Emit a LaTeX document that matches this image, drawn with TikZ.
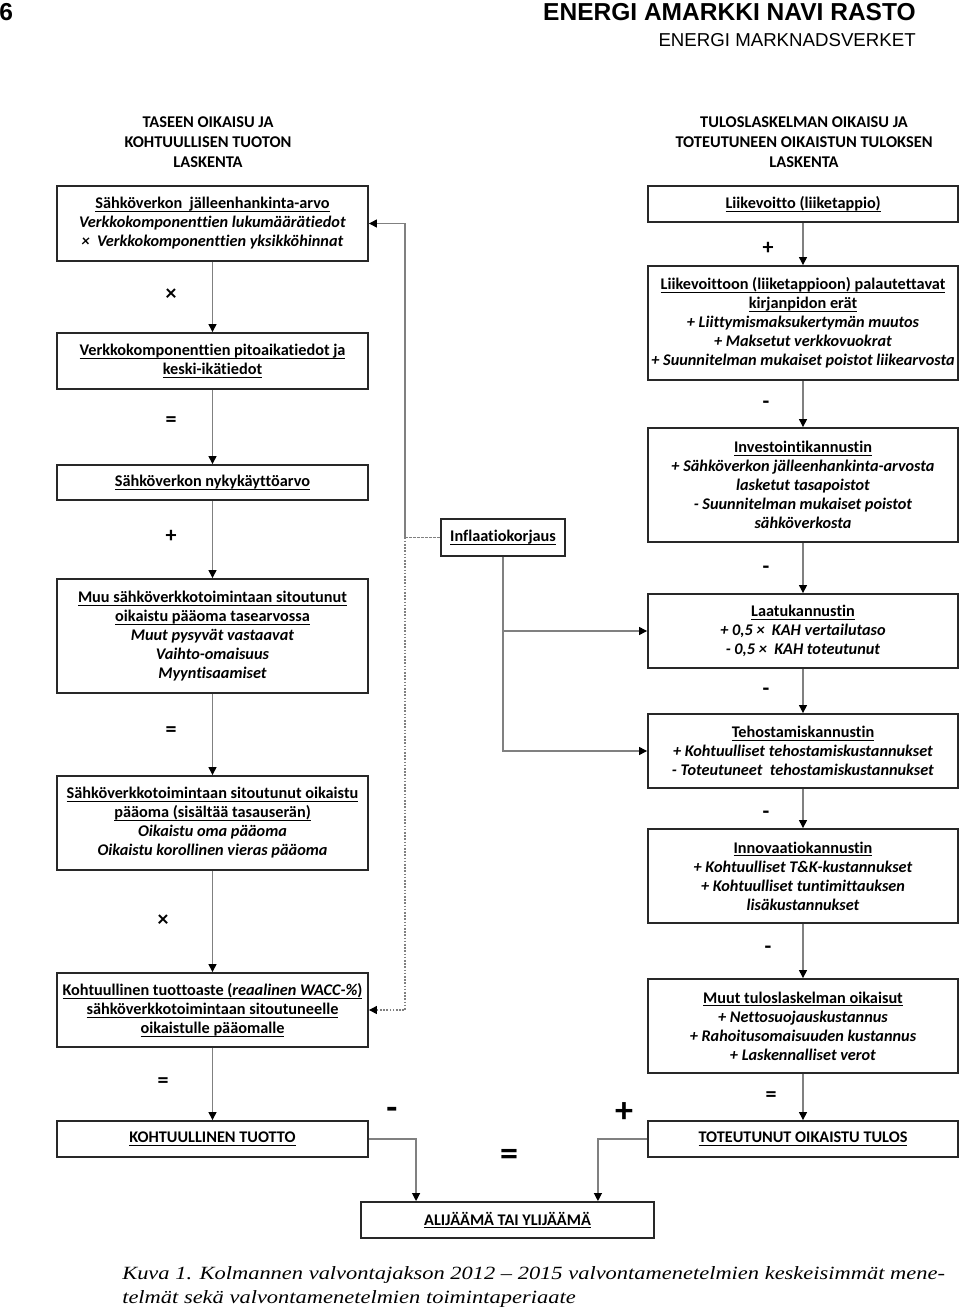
\documentclass[tikz,border=0pt]{standalone}
\usepackage{fontspec}
\setmainfont[Ligatures={NoCommon}]{Carlito}
\newfontfamily\hdrfont{Liberation Sans}
\newfontfamily\capfont{Liberation Serif}
\usetikzlibrary{arrows.meta,calc}
\definecolor{linegray}{RGB}{128,128,128}
\definecolor{boxline}{RGB}{40,40,40}
\newcommand{\myul}[1]{\setbox0\hbox{#1}\rlap{\rule[-2.4pt]{\wd0}{0.7pt}}\box0}
\tikzset{
 box/.style={draw=boxline, line width=1.4pt, inner sep=0pt, align=center, font=\fontsize{12.2}{14.25}\selectfont\bfseries},
 lbox/.style={box, minimum width=233.25pt},
 rbox/.style={box, minimum width=232.5pt},
 conn/.style={draw=linegray, line width=0.9pt, -{Triangle[length=6pt,width=6pt,color=black]}},
 dashconn/.style={draw=linegray, line width=0.9pt, dash pattern=on 2pt off 1pt},
 dotconn/.style={draw=linegray, line width=0.9pt, dash pattern=on 1.2pt off 1.2pt, -{Triangle[length=6pt,width=6pt,color=black]}},
 op/.style={font=\fontsize{16.5}{16.5}\selectfont\bfseries, inner sep=0pt},
 bigop/.style={font=\fontsize{27}{27}\selectfont\bfseries, inner sep=0pt},
 head/.style={align=center, inner sep=0pt, font=\fontsize{12.3}{15}\selectfont\bfseries},
}
\begin{document}
\begin{tikzpicture}[x=0.75pt,y=-0.75pt]
\useasboundingbox (0,0) rectangle (960,1312);
\fill[white] (0,0) rectangle (960,1312);

% page header
\node[anchor=west, inner sep=0pt, font=\hdrfont\bfseries\fontsize{18.4}{18.4}\selectfont] (pagenum) at (-1,12) {6};
\node[anchor=east, inner sep=0pt, font=\hdrfont\bfseries\fontsize{18.4}{18.4}\selectfont] (hdr1) at (916,12) {ENERGI AMARKKI NAVI RASTO};
\node[anchor=east, inner sep=0pt, font=\hdrfont\fontsize{14}{14}\selectfont] (hdr2) at (916,40) {ENERGI MARKNADSVERKET};

% column headings
\node[head] (headL) at (208,142) {TASEEN OIKAISU JA\\KOHTUULLISEN TUOTON\\LASKENTA};
\node[head] (headR) at (804,142) {TULOSLASKELMAN OIKAISU JA\\TOTEUTUNEEN OIKAISTUN TULOKSEN\\LASKENTA};

% left column
\node[lbox, minimum height=56.25pt] (L1) at (212.5,223.5) {\myul{Sähköverkon\ \ jälleenhankinta-arvo}\\\textit{Verkkokomponenttien lukumäärätiedot}\\\textit{×\ \ Verkkokomponenttien yksikköhinnat}};
\node[lbox, minimum height=42pt] (L2) at (212.5,361) {\myul{Verkkokomponenttien pitoaikatiedot ja}\\\myul{keski-ikätiedot}};
\node[lbox, minimum height=26.25pt] (L3) at (212.5,482.5) {\myul{Sähköverkon nykykäyttöarvo}};
\node[lbox, minimum height=85.5pt] (L4) at (212.5,636) {\myul{Muu sähköverkkotoimintaan sitoutunut}\\\myul{oikaistu pääoma tasearvossa}\\\textit{Muut pysyvät vastaavat}\\\textit{Vaihto-omaisuus}\\\textit{Myyntisaamiset}};
\node[lbox, minimum height=70.5pt] (L5) at (212.5,823) {\myul{Sähköverkkotoimintaan sitoutunut oikaistu}\\\myul{pääoma (sisältää tasauserän)}\\\textit{Oikaistu oma pääoma}\\\textit{Oikaistu korollinen vieras pääoma}};
\node[lbox, minimum height=55.5pt] (L6) at (212.5,1010) {\myul{Kohtuullinen tuottoaste (\textit{reaalinen WACC-\%})}\\\myul{sähköverkkotoimintaan sitoutuneelle}\\\myul{oikaistulle pääomalle}};
\node[lbox, minimum height=27pt] (L7) at (212.5,1139) {\myul{KOHTUULLINEN TUOTTO}};

% right column
\node[rbox, minimum height=27pt] (R1) at (803,204) {\myul{Liikevoitto (liiketappio)}};
\node[rbox, minimum height=85.5pt] (R2) at (803,323) {\myul{Liikevoittoon (liiketappioon) palautettavat}\\\myul{kirjanpidon erät}\\\textit{+ Liittymismaksukertymän muutos}\\\textit{+ Maksetut verkkovuokrat}\\\textit{+ Suunnitelman mukaiset poistot liikearvosta}};
\node[rbox, minimum height=85.5pt] (R3) at (803,485) {\myul{Investointikannustin}\\\textit{+ Sähköverkon jälleenhankinta-arvosta}\\\textit{lasketut tasapoistot}\\\textit{- Suunnitelman mukaiset poistot}\\\textit{sähköverkosta}};
\node[rbox, minimum height=55.5pt] (R4) at (803,631) {\myul{Laatukannustin}\\\textit{+ 0,5 ×\ \ KAH vertailutaso}\\\textit{- 0,5 ×\ \ KAH toteutunut}};
\node[rbox, minimum height=55.5pt] (R5) at (803,751) {\myul{Tehostamiskannustin}\\\textit{+ Kohtuulliset tehostamiskustannukset}\\\textit{- Toteutuneet\ \ tehostamiskustannukset}};
\node[rbox, minimum height=70.5pt] (R6) at (803,876) {\myul{Innovaatiokannustin}\\\textit{+ Kohtuulliset T\&K-kustannukset}\\\textit{+ Kohtuulliset tuntimittauksen}\\\textit{lisäkustannukset}};
\node[rbox, minimum height=70.5pt] (R7) at (803,1026) {\myul{Muut tuloslaskelman oikaisut}\\\textit{+ Nettosuojauskustannus}\\\textit{+ Rahoitusomaisuuden kustannus}\\\textit{+ Laskennalliset verot}};
\node[rbox, minimum height=27pt] (R8) at (803,1139) {\myul{TOTEUTUNUT OIKAISTU TULOS}};

% middle
\node[box, minimum width=93pt, minimum height=27.75pt] (infl) at (503,537.5) {\myul{Inflaatiokorjaus}};
\node[box, minimum width=219.75pt, minimum height=27pt] (bot) at (507.5,1220) {\myul{ALIJÄÄMÄ TAI YLIJÄÄMÄ}};

% operators
\node[op] (oL1) at (171,295) {×};
\node[op] (oL2) at (171,422) {=};
\node[op] (oL3) at (171,536) {+};
\node[op] (oL4) at (171,732) {=};
\node[op] (oL5) at (163,921) {×};
\node[op] (oL6) at (163,1083) {=};
\node[op] (oR1) at (768,248) {+};
\node[op] (oR2) at (766,405) {-};
\node[op] (oR3) at (766,570) {-};
\node[op] (oR4) at (766,692) {-};
\node[op] (oR5) at (766,815) {-};
\node[op] (oR6) at (768,950) {-};
\node[op] (oR7) at (771,1097) {=};
\node[bigop] (oB1) at (392,1113) {-};
\node[bigop] (oB2) at (624,1113) {+};
\node[bigop] (oB3) at (509,1157) {=};

% vertical connectors
\draw[conn] (L1) -- (L2);
\draw[conn] (L2) -- (L3);
\draw[conn] (L3) -- (L4);
\draw[conn] (L4) -- (L5);
\draw[conn] (L5) -- (L6);
\draw[conn] (L6) -- (L7);
\draw[conn] (R1) -- (R2);
\draw[conn] (R2) -- (R3);
\draw[conn] (R3) -- (R4);
\draw[conn] (R4) -- (R5);
\draw[conn] (R5) -- (R6);
\draw[conn] (R6) -- (R7);
\draw[conn] (R7) -- (R8);

% inflation connectors
\coordinate (jn) at (405,537.5);
\draw[dashconn] (infl.west) -- (jn);
\draw[conn] (jn) |- (L1.east);
\draw[dotconn] (jn) |- (L6.east);
\draw[conn] (infl.south) |- (R4.west);
\draw[conn] (infl.south) |- (R5.west);

% bottom connectors
\coordinate (bl) at ($(bot.north west)+(56,0)$);
\coordinate (br) at ($(bot.north east)+(-57,0)$);
\draw[conn] (L7.east) -| (bl);
\draw[conn] (R8.west) -| (br);

% caption
\node[anchor=north west, inner sep=0pt] (cap) at (122,1262) {\resizebox{617pt}{\height}{\capfont\itshape\fontsize{14}{18}\selectfont\begin{tabular}{@{}l@{}}Kuva 1. Kolmannen valvontajakson 2012 – 2015 valvontamenetelmien keskeisimmät mene-\\telmät sekä valvontamenetelmien toimintaperiaate\end{tabular}}};
\end{tikzpicture}
\end{document}
